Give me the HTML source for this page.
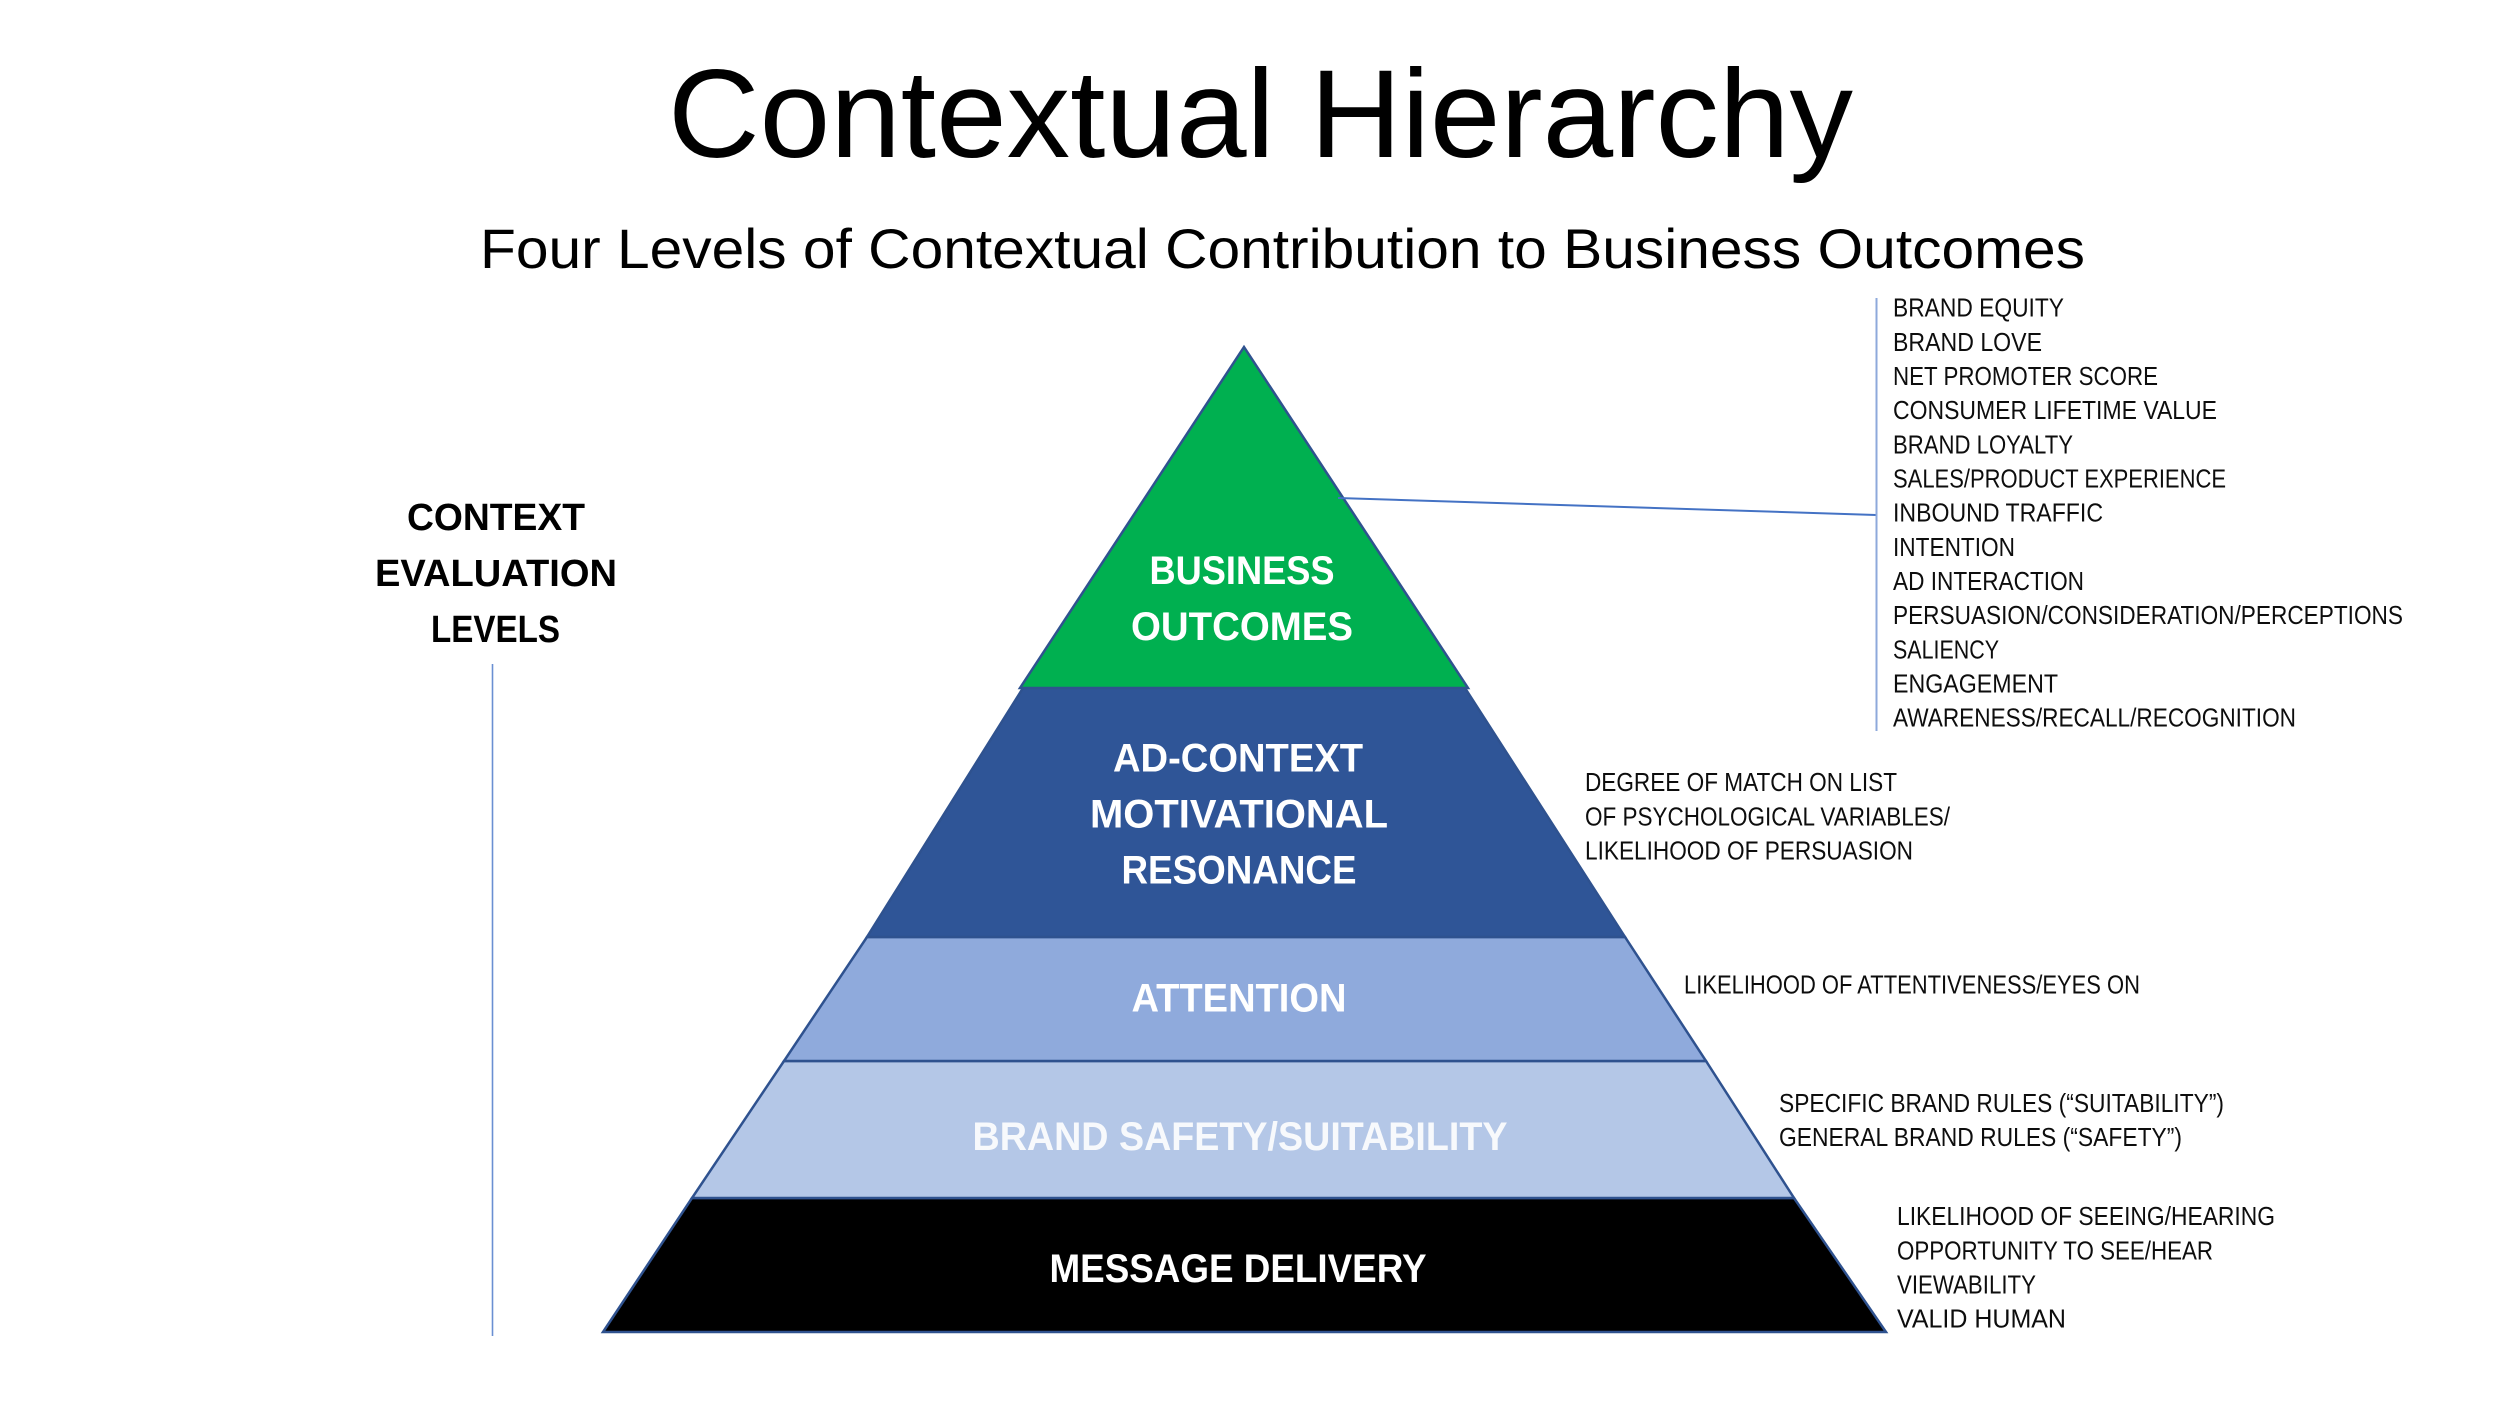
<!DOCTYPE html>
<html>
<head>
<meta charset="utf-8">
<style>
html,body{margin:0;padding:0;background:#fff;}
svg{display:block;}
text{font-family:"Liberation Sans",Arial,sans-serif;}
.b{font-weight:bold;}
</style>
</head>
<body>
<svg width="2500" height="1406" viewBox="0 0 2500 1406" xmlns="http://www.w3.org/2000/svg">
<rect x="0" y="0" width="2500" height="1406" fill="#ffffff"/>

<!-- Title -->
<text x="668" y="157" font-size="125" fill="#000" textLength="1185" lengthAdjust="spacingAndGlyphs">Contextual Hierarchy</text>
<text x="480" y="268" font-size="56" fill="#000" textLength="1605" lengthAdjust="spacingAndGlyphs">Four Levels of Contextual Contribution to Business Outcomes</text>

<!-- Pyramid layers -->
<polygon points="603,1332 1886,1332 1794,1198 692,1198" fill="#000000" stroke="#2F528F" stroke-width="2.5" stroke-linejoin="miter"/>
<polygon points="692,1198 1794,1198 1706,1061 784,1061" fill="#B4C7E7" stroke="#2F528F" stroke-width="2.5"/>
<polygon points="784,1061 1706,1061 1625,937 867,937" fill="#8FAADC" stroke="#2F528F" stroke-width="2.5"/>
<polygon points="867,937 1625,937 1465,688 1023,688" fill="#2F5597" stroke="#2F528F" stroke-width="2.5"/>
<polygon points="1020,688 1468,688 1244,347" fill="#00B050" stroke="#2F528F" stroke-width="2.5"/>

<!-- Pyramid labels -->
<g class="b" fill="#ffffff" font-size="40" font-weight="bold">
<text x="1149.5" y="584" textLength="185" lengthAdjust="spacingAndGlyphs">BUSINESS</text>
<text x="1131" y="640" textLength="222" lengthAdjust="spacingAndGlyphs">OUTCOMES</text>
<text x="1113" y="771.5" textLength="250" lengthAdjust="spacingAndGlyphs">AD-CONTEXT</text>
<text x="1090" y="827.5" textLength="298" lengthAdjust="spacingAndGlyphs">MOTIVATIONAL</text>
<text x="1121.5" y="883.5" textLength="235" lengthAdjust="spacingAndGlyphs">RESONANCE</text>
<text x="1131.5" y="1011.5" textLength="215" lengthAdjust="spacingAndGlyphs">ATTENTION</text>
<text x="972.5" y="1150" textLength="535" lengthAdjust="spacingAndGlyphs" fill="#F7F9FC">BRAND SAFETY/SUITABILITY</text>
<text x="1049.5" y="1282" textLength="377" lengthAdjust="spacingAndGlyphs">MESSAGE DELIVERY</text>
</g>

<!-- Left label -->
<g fill="#000" font-size="38" font-weight="bold">
<text x="407" y="530" textLength="178" lengthAdjust="spacingAndGlyphs">CONTEXT</text>
<text x="375" y="586" textLength="242" lengthAdjust="spacingAndGlyphs">EVALUATION</text>
<text x="431" y="642" textLength="129" lengthAdjust="spacingAndGlyphs">LEVELS</text>
</g>
<line x1="492.5" y1="664" x2="492.5" y2="1336" stroke="#6A8FD2" stroke-width="1.6"/>

<!-- Connector and right bracket -->
<line x1="1338" y1="498" x2="1876" y2="515" stroke="#4472C4" stroke-width="2"/>
<line x1="1876.5" y1="298" x2="1876.5" y2="731" stroke="#8EA9DB" stroke-width="2"/>

<!-- Right list -->
<g fill="#0d0d0d" font-size="25.6">
<text x="1893" y="316.7" textLength="171" lengthAdjust="spacingAndGlyphs">BRAND EQUITY</text>
<text x="1893" y="350.9" textLength="149" lengthAdjust="spacingAndGlyphs">BRAND LOVE</text>
<text x="1893" y="385.0" textLength="265" lengthAdjust="spacingAndGlyphs">NET PROMOTER SCORE</text>
<text x="1893" y="419.2" textLength="324" lengthAdjust="spacingAndGlyphs">CONSUMER LIFETIME VALUE</text>
<text x="1893" y="453.4" textLength="180" lengthAdjust="spacingAndGlyphs">BRAND LOYALTY</text>
<text x="1893" y="487.6" textLength="333" lengthAdjust="spacingAndGlyphs">SALES/PRODUCT EXPERIENCE</text>
<text x="1893" y="521.7" textLength="210" lengthAdjust="spacingAndGlyphs">INBOUND TRAFFIC</text>
<text x="1893" y="555.9" textLength="122" lengthAdjust="spacingAndGlyphs">INTENTION</text>
<text x="1893" y="590.1" textLength="191" lengthAdjust="spacingAndGlyphs">AD INTERACTION</text>
<text x="1893" y="624.2" textLength="510" lengthAdjust="spacingAndGlyphs">PERSUASION/CONSIDERATION/PERCEPTIONS</text>
<text x="1893" y="658.4" textLength="106" lengthAdjust="spacingAndGlyphs">SALIENCY</text>
<text x="1893" y="692.6" textLength="165" lengthAdjust="spacingAndGlyphs">ENGAGEMENT</text>
<text x="1893" y="726.7" textLength="403" lengthAdjust="spacingAndGlyphs">AWARENESS/RECALL/RECOGNITION</text>
</g>

<!-- Layer descriptions -->
<g fill="#0d0d0d" font-size="25.6">
<text x="1585" y="791" textLength="312" lengthAdjust="spacingAndGlyphs">DEGREE OF MATCH ON LIST</text>
<text x="1585" y="825.5" textLength="365" lengthAdjust="spacingAndGlyphs">OF PSYCHOLOGICAL VARIABLES/</text>
<text x="1585" y="859.5" textLength="328" lengthAdjust="spacingAndGlyphs">LIKELIHOOD OF PERSUASION</text>

<text x="1684" y="993.3" textLength="456" lengthAdjust="spacingAndGlyphs">LIKELIHOOD OF ATTENTIVENESS/EYES ON</text>

<text x="1779" y="1112" textLength="445" lengthAdjust="spacingAndGlyphs">SPECIFIC BRAND RULES (“SUITABILITY”)</text>
<text x="1779" y="1146" textLength="403" lengthAdjust="spacingAndGlyphs">GENERAL BRAND RULES (“SAFETY”)</text>

<text x="1897" y="1225" textLength="378" lengthAdjust="spacingAndGlyphs">LIKELIHOOD OF SEEING/HEARING</text>
<text x="1897" y="1259.3" textLength="316" lengthAdjust="spacingAndGlyphs">OPPORTUNITY TO SEE/HEAR</text>
<text x="1897" y="1293.3" textLength="139" lengthAdjust="spacingAndGlyphs">VIEWABILITY</text>
<text x="1897" y="1327.3" textLength="169" lengthAdjust="spacingAndGlyphs">VALID HUMAN</text>
</g>
</svg>
</body>
</html>
